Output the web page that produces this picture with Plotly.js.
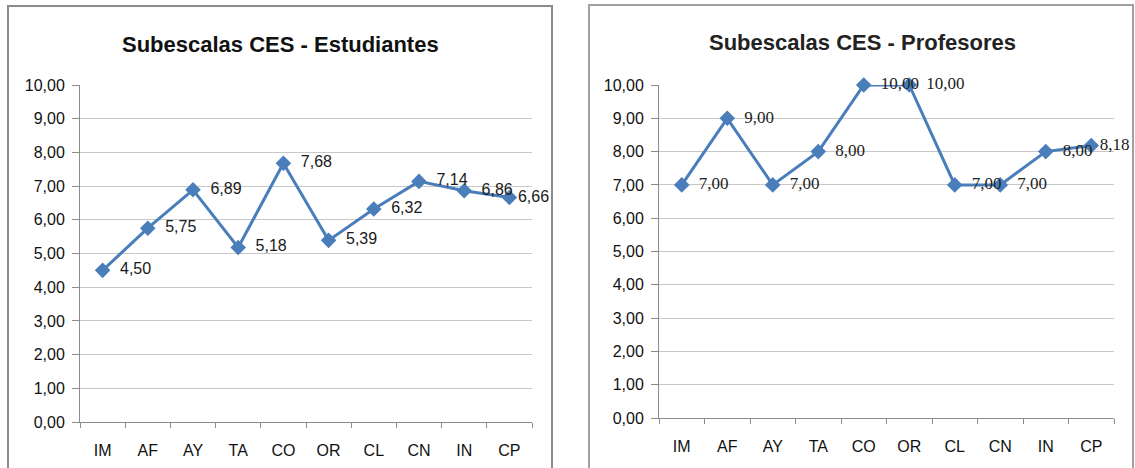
<!DOCTYPE html>
<html>
<head>
<meta charset="utf-8">
<script src="https://cdn.plot.ly/plotly-3.0.1.min.js"></script>
<style>html,body{margin:0;padding:0;background:#fff;}#chart{width:1135px;height:468px;}</style>
</head>
<body>
<div id="chart"></div>
<script>
const categories = ["IM","AF","AY","TA","CO","OR","CL","CN","IN","CP"];
const estudiantes = [4.50, 5.75, 6.89, 5.18, 7.68, 5.39, 6.32, 7.14, 6.86, 6.66];
const profesores = [7.00, 9.00, 7.00, 8.00, 10.00, 10.00, 7.00, 7.00, 8.00, 8.18];
const yTicks = [0,1,2,3,4,5,6,7,8,9,10];
const titleLeft = "Subescalas CES - Estudiantes";
const titleRight = "Subescalas CES - Profesores";

const W = 1135, H = 468;
const px = x => x / W;
const py = y => (H - y) / H;
const blue = "#4A7EBB";

// label template per point: padded, except the last one which sits close to the marker
const labelTemplates = categories.map((c, i) =>
  i === categories.length - 1 ? "%{y:.2f}" : "\u00a0\u00a0%{y:.2f}");

const traceStyle = {
  type: "scatter", mode: "lines+markers+text",
  line: {color: blue, width: 3},
  marker: {symbol: "diamond", size: 12, color: blue},
  textposition: "middle right",
  texttemplate: labelTemplates,
  cliponaxis: false,
  hoverinfo: "skip",
  showlegend: false
};

const data = [
  Object.assign({}, traceStyle, {x: categories, y: estudiantes, xaxis: "x", yaxis: "y",
    textfont: {family: "Liberation Sans", size: 16, color: "#1a1a1a"}}),
  Object.assign({}, traceStyle, {x: categories, y: profesores, xaxis: "x2", yaxis: "y2",
    textfont: {family: "Liberation Serif", size: 17, color: "#222"}})
];

const xBase = {
  type: "category", range: [-0.5, 9.5], tickson: "boundaries",
  ticks: "outside", ticklen: 5, tickcolor: "#8c8c8c", tickwidth: 1,
  showline: true, linecolor: "#8c8c8c", linewidth: 1,
  showgrid: false, zeroline: false, fixedrange: true,
  ticklabelstandoff: 14,
  tickfont: {family: "Liberation Sans", size: 16, color: "#111"}
};
const yBase = {
  range: [0, 10], tickvals: yTicks, tickformat: ".2f",
  ticks: "outside", ticklen: 7, tickcolor: "#8c8c8c", tickwidth: 1,
  showline: true, linecolor: "#8c8c8c", linewidth: 1,
  showgrid: true, gridcolor: "#c8c8c8", gridwidth: 1,
  zeroline: false, fixedrange: true,
  ticklabelstandoff: 4,
  tickfont: {family: "Liberation Sans", size: 16, color: "#111"}
};

const layout = {
  width: W, height: H,
  margin: {l: 0, r: 0, t: 0, b: 0},
  paper_bgcolor: "#fff", plot_bgcolor: "rgba(0,0,0,0)",
  separators: ",.",
  showlegend: false,
  xaxis: Object.assign({}, xBase, {domain: [px(80), px(532)], anchor: "y"}),
  yaxis: Object.assign({}, yBase, {domain: [py(422), py(85)], anchor: "x"}),
  xaxis2: Object.assign({}, xBase, {domain: [px(659), px(1114)], anchor: "y2"}),
  yaxis2: Object.assign({}, yBase, {domain: [py(418), py(85)], anchor: "x2"}),
  shapes: [
    {type: "rect", xref: "paper", yref: "paper", x0: px(8), x1: px(552), y0: py(475), y1: py(6),
      line: {color: "#8c8c8c", width: 2}, fillcolor: "rgba(0,0,0,0)", layer: "below"},
    {type: "rect", xref: "paper", yref: "paper", x0: px(589), x1: px(1133), y0: py(475), y1: py(5),
      line: {color: "#a0a0a0", width: 2}, fillcolor: "rgba(0,0,0,0)", layer: "below"}
  ],
  annotations: [
    {text: "<b>" + titleLeft + "</b>", xref: "paper", yref: "paper", x: px(280), y: py(44),
      xanchor: "center", yanchor: "middle", showarrow: false,
      font: {family: "Liberation Sans", size: 22, color: "#111"}},
    {text: "<b>" + titleRight + "</b>", xref: "paper", yref: "paper", x: px(862), y: py(42),
      xanchor: "center", yanchor: "middle", showarrow: false,
      font: {family: "Liberation Sans", size: 22, color: "#222"}}
  ]
};

Plotly.newPlot("chart", data, layout, {staticPlot: true, displayModeBar: false});
</script>
</body>
</html>
